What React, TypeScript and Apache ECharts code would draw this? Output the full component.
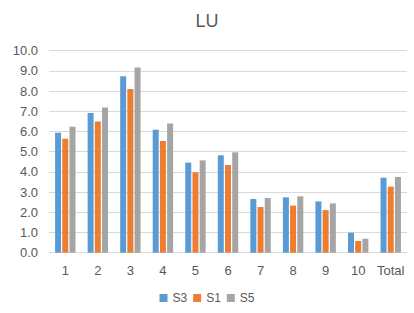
import React, { useEffect, useRef } from "react";
import * as echarts from "echarts";

const categories = ["1", "2", "3", "4", "5", "6", "7", "8", "9", "10", "Total"];
const s3 = [5.94, 6.91, 8.73, 6.09, 4.46, 4.82, 2.66, 2.74, 2.54, 0.99, 3.71];
const s1 = [5.64, 6.5, 8.1, 5.53, 3.98, 4.34, 2.26, 2.33, 2.11, 0.58, 3.27];
const s5 = [6.24, 7.19, 9.17, 6.39, 4.57, 4.97, 2.71, 2.79, 2.44, 0.69, 3.75];
const seriesNames = ["S3", "S1", "S5"];
const colors = ["#5B9BD5", "#ED7D31", "#A5A5A5"];

export default function App() {
  const ref = useRef<HTMLDivElement>(null);
  useEffect(() => {
    if (!ref.current) return;
    const chart = echarts.init(ref.current, null, { renderer: "svg" });
    const font = "'Liberation Sans', Arial, sans-serif";
    const data = [s3, s1, s5];
    chart.setOption({
      animation: false,
      textStyle: { fontFamily: font },
      title: {
        text: "LU",
        left: "center",
        top: 7,
        textStyle: { fontSize: 18, fontWeight: "normal", color: "#595959", fontFamily: font },
      },
      legend: {
        data: seriesNames,
        bottom: 4,
        left: "center",
        itemWidth: 8,
        itemHeight: 8,
        itemGap: 6,
        icon: "rect",
        textStyle: { fontSize: 12, color: "#595959", fontFamily: font },
      },
      grid: { left: 49, right: 7, top: 50.7, bottom: 60.3, containLabel: false },
      xAxis: {
        type: "category",
        data: categories,
        axisLine: { show: true, lineStyle: { color: "#d9d9d9" } },
        axisTick: { show: false },
        axisLabel: { interval: 0, color: "#595959", fontSize: 13, margin: 11, fontFamily: font },
      },
      yAxis: {
        type: "value",
        min: 0,
        max: 10,
        interval: 1,
        axisLine: { show: false },
        axisTick: { show: false },
        axisLabel: {
          color: "#595959",
          fontSize: 13,
          margin: 11,
          fontFamily: font,
          formatter: (v: number) => v.toFixed(1),
        },
        splitLine: { lineStyle: { color: "#d9d9d9" } },
      },
      series: seriesNames.map((name, i) => ({
        name,
        type: "bar",
        data: data[i],
        barWidth: 6,
        barGap: "20%",
        itemStyle: { color: colors[i] },
      })),
    });
    return () => chart.dispose();
  }, []);
  return (
    <div
      ref={ref}
      style={{ position: "absolute", left: 0, top: 0, width: 414, height: 313, background: "#fff" }}
    />
  );
}
